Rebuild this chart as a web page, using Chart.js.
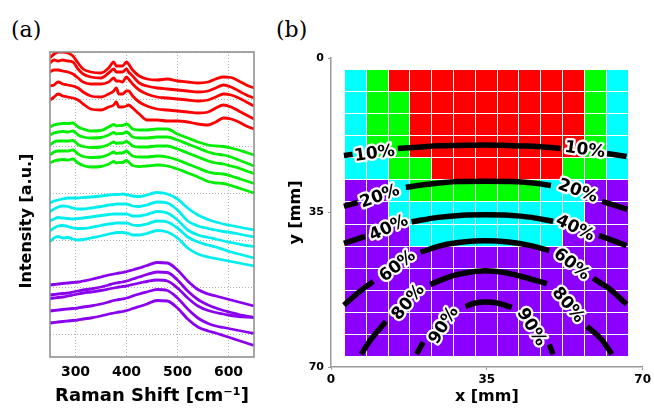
<!DOCTYPE html>
<html>
<head>
<meta charset="utf-8">
<script src="https://cdn.jsdelivr.net/npm/chart.js@4.4.1/dist/chart.umd.min.js"></script>
<style>
    body { margin: 0; background: #fff; width: 654px; height: 409px; position: relative; overflow: hidden; }
    .panel { position: absolute; top: 0; height: 409px; }
    #panelA { left: 0; width: 270px; }
    #panelB { left: 270px; width: 384px; }
    .tag { position: absolute; top: 19px; font-family: "DejaVu Serif"; font-size: 22px; line-height: 22px; color: #000; }
</style>
</head>
<body>
<div class="tag" style="left:11px">(a)</div>
<div class="tag" style="left:276px">(b)</div>
<div class="panel" id="panelA"><canvas id="spectraChart" width="270" height="409"></canvas></div>
<div class="panel" id="panelB"><canvas id="mapChart" width="384" height="409"></canvas></div>

<script>
// ---- panel (a): Raman spectra, offset for display ----
const ramanShift = [250, 258, 266, 275, 285, 295, 305, 315, 330, 350, 365, 375, 380, 385, 392, 400,
                    404, 412, 425, 440, 460, 480, 500, 520, 540, 560, 575, 590, 605, 620, 635, 650];
const ramanTicks = [300, 400, 500, 600];
const intensityGrid = [0, 47, 94, 141, 188, 235, 282];

const red1 = [276, 280, 282, 282, 281, 278, 271, 265, 262, 261, 266, 272, 268, 268, 268, 272, 270, 264, 258, 255, 254, 255, 253, 252, 251, 252, 255, 257, 256.5, 253, 249, 246];
const red2 = [271, 274, 273, 274, 273, 272, 265, 260, 257, 256, 261, 265, 262, 262, 262, 265, 262, 258, 251, 248, 246, 245, 244, 243, 242, 243, 246, 249, 247, 243, 239, 236];
const red3 = [262, 264, 264, 263, 262, 260, 256, 252, 250, 250, 252, 256, 253, 253, 252, 257, 255, 250, 244, 240, 237, 236, 235, 234, 233, 234, 237, 240, 239, 236, 232, 228];
const red4 = [248, 249, 252, 250, 249, 248, 246, 242, 238, 237, 240, 243, 246, 240, 240, 243, 243, 238, 232, 228, 225, 224, 223, 222, 221, 222, 226, 229, 227, 223, 219, 215];
const red5 = [234, 237, 240, 238, 237, 236, 234, 230, 225, 224, 227, 229, 232, 227, 227, 228, 229, 226, 220, 214, 214, 213, 213, 212, 210, 209, 212, 216, 215, 212, 208, 205];

const green1 = [207, 209, 210, 210.5, 210.5, 211, 207, 205, 203, 203.5, 207, 209.5, 208, 208.5, 208.5, 210, 209, 205, 204, 204, 205, 205, 200, 196, 192, 189, 188, 187.5, 186, 184, 181.5, 179];
const green2 = [199, 201, 202, 202.5, 202, 203, 199, 197, 196, 196.5, 199, 201.5, 200, 200.5, 200.5, 202, 201, 197, 196, 196, 197, 197, 194, 190, 186, 182, 180, 179, 177, 174, 171, 168];
const green3 = [189, 192, 193, 193, 193, 193.5, 189.5, 187.5, 186.5, 187, 189.5, 192, 190.5, 191, 191, 192.5, 191.5, 188, 187, 187, 188, 188, 185, 181, 177, 173, 171, 170, 168, 166, 163, 160.5];
const green4 = [179, 182, 183, 183, 183, 184, 180, 177.5, 176.5, 177, 179.5, 182, 180.5, 181, 181, 183, 181.5, 178, 177, 177, 178, 177, 174, 170, 166, 162, 160.5, 160, 158, 155.5, 153, 150.5];
const green5 = [171, 173, 174, 174.5, 174, 175, 171, 168.5, 167, 167.5, 170, 172.5, 171, 171.5, 171.5, 173.5, 172, 168.5, 167.5, 168, 169, 168, 165, 161, 157, 152.5, 151, 150.5, 148.5, 146, 143.5, 141];

const cyan1 = [131, 133, 134, 135, 136, 136, 136, 136.5, 137, 138, 139, 139.5, 139.5, 139.5, 140, 139.5, 139, 138, 137.5, 139, 141.5, 140, 135, 126, 119, 114.5, 112, 110, 108.5, 107, 105.5, 104];
const cyan2 = [122.5, 125, 127, 128, 127.5, 126, 125, 125, 126, 127.5, 129, 129.5, 130, 130, 130, 130, 129.5, 128, 127.5, 129, 132, 131, 124, 113, 108, 105.5, 104, 102.5, 101.5, 100, 98.5, 97];
const cyan3 = [113, 115, 116.5, 116, 115.5, 115, 115.5, 116, 117, 118.5, 119.5, 120, 120, 120, 120, 120, 119.5, 118, 118, 119.5, 122.5, 121, 114, 104, 99, 96.5, 95, 93, 91.5, 90, 88.5, 87.5];
const cyan4 = [103, 106, 108, 108.5, 107.5, 106, 105.5, 105.5, 106.5, 108.5, 110, 110.5, 111, 111, 111, 111, 110.5, 109, 108.5, 110, 113, 112, 106, 97, 92, 89, 87, 84.5, 82, 80, 78, 76];
const cyan5 = [92.5, 96, 97.5, 96, 96.5, 95, 94, 94.5, 96, 98, 100, 101, 101.5, 101.5, 101.5, 101, 100.5, 99, 99, 100.5, 103.5, 102, 96, 86, 80, 77, 75.5, 74, 72.5, 71, 69.5, 68];

const purple1 = [49, 49.5, 50, 50.5, 51, 51.5, 52, 53, 54.5, 57, 59, 60, 60.5, 61, 61.5, 62.5, 63, 64, 66, 68.5, 71.5, 71, 64, 53, 44.5, 40, 38, 36, 34, 32, 30, 28];
const purple2 = [39, 39.5, 40, 40.5, 41, 42, 43, 44, 45, 47, 49, 50.5, 51, 51.5, 52, 53, 53.5, 55, 57, 59.5, 62, 61.5, 54, 43, 34.5, 29, 26, 23.5, 21.5, 19.5, 18, 16.5];
const purple3 = [35.5, 36, 36.5, 37, 38, 39, 40, 41, 42, 43.5, 45, 46, 46.5, 47, 47.5, 48, 48.5, 49.5, 51, 52.5, 54, 53, 46, 36, 28, 23.5, 21.5, 20, 18.5, 17.5, 17, 16.5];
const purple4 = [23, 23.5, 24, 24.5, 25, 25.5, 26, 27, 28, 30, 32, 33.5, 34, 34.5, 35, 36, 36.5, 38, 40, 42, 44.5, 43.5, 36, 25, 16, 10.5, 8, 6.5, 5, 3.5, 2, 0.5];
const purple5 = [11, 11.5, 12, 12.5, 13, 13.5, 14, 15, 16, 18, 20, 21, 21.5, 22, 22.5, 23.5, 24, 25.5, 27.5, 30, 33.5, 33, 26, 15, 7, 3, 1, -1.5, -4, -6.5, -9, -11.5];

// ---- panel (b): phase map + contour lines ----
const mapTicks = [0, 35, 70];
// one string per row of the map, top to bottom: C cyan, G green, R red, P purple
const mapRows = [
    'CGRRRRRRRRRGC',
    'CGGRRRRRRRRGC',
    'CGGRRRRRRRRGC',
    'CGGRRRRRRRRGC',
    'CCGGRRRRRRGGC',
    'PPCGGGGGGCCPP',
    'PPCCCCCCCCCPP',
    'PPPCCCCCCCPPP',
    'PPPPPPPPPPPPP',
    'PPPPPPPPPPPPP',
    'PPPPPPPPPPPPP',
    'PPPPPPPPPPPPP',
    'PPPPPPPPPPPPP'
];

// null breaks the line where a label sits
const c10X = [2.9, 4.85, null, 15.0, 19.6, 24.05, 28.5, 34.6, 39.5, 43.9, 48.3, 51.6, null, 62.0, 66.4];
const c10Y = [22.1, 21.8, null, 20.5, 20.2, 19.9, 19.8, 19.7, 19.8, 19.95, 20.2, 20.5, null, 21.65, 22.3];
const c20X = [2.9, 6.0, null, 16.8, 21.8, 28.5, 34.6, 40.6, 46.1, 49.4, null, 60.9, 66.6];
const c20Y = [33.6, 32.7, null, 29.3, 28.6, 28.0, 27.9, 28.0, 28.4, 28.9, null, 32.5, 34.3];
const c40X = [2.9, 7.7, null, 18.1, 24.05, 29.6, 34.6, 39.9, 45.0, 49.9, null, 60.2, 66.4];
const c40Y = [42.0, 40.4, null, 37.1, 36.1, 35.6, 35.5, 35.6, 36.1, 37.0, null, 40.2, 42.5];
const c60X = [2.9, 6.4, 9.5, null, 20.1, 25.1, 29.6, 34.6, 39.9, 44.3, 49.0, null, 58.9, 62.7, 66.4];
const c60Y = [56.0, 52.9, 50.6, null, 44.0, 42.4, 41.7, 41.4, 41.7, 42.4, 43.6, null, 49.9, 52.4, 55.8];
const c80X = [6.8, 9.0, 12.35, null, 22.3, 27.4, 30.7, 34.6, 39.0, 42.8, 48.5, null, 57.5, 60.7, 63.1];
const c80Y = [67.1, 63.7, 59.7, null, 51.3, 49.3, 48.6, 48.2, 48.6, 49.5, 51.1, null, 60.8, 63.7, 67.1];
const c90X = [19.2, 20.7, null, 30.2, 32.4, 34.6, 37.3, 40.6, null, 49.0, 49.9];
const c90Y = [67.1, 64.4, null, 56.3, 55.5, 55.3, 55.5, 56.5, null, 64.9, 67.1];

const contourText = ['10%', '10%', '20%', '20%', '40%', '40%', '60%', '60%', '80%', '80%', '90%', '90%'];
const contourTextX = [9.8, 57.0, 11.0, 55.4, 13.0, 54.8, 15.0, 54.0, 17.4, 53.2, 25.4, 45.0];
const contourTextY = [21.7, 20.9, 31.4, 30.2, 38.6, 38.6, 47.2, 46.8, 55.4, 56.0, 60.6, 61.0];
const contourTextAngle = [-8, 8, -20, 20, -25, 25, -38, 38, -50, 50, -58, 58];

// map cell layout (mm)
const cellX0 = 2.9, cellW = 4.9, cellY0 = 2.5, cellH = 5.0;
const phaseColors = { C: '#00ffff', G: '#00ff00', R: '#ff0000', P: '#8b00ff' };

Chart.defaults.font.family = 'DejaVu Sans';

// cut a contour into pieces at the null entries
function splitAtGaps(xs, ys) {
    const parts = [];
    let cur = [];
    xs.forEach((x, i) => {
        if (x === null) {
            parts.push(cur);
            cur = [];
        } else {
            cur.push({ x: x, y: ys[i] });
        }
    });
    parts.push(cur);
    return parts;
}

// frame and y-title for the spectra panel
const spectraDecor = {
    id: 'spectraDecor',
    afterDatasetsDraw(chart) {
        const { ctx, chartArea } = chart;
        ctx.save();
        ctx.strokeStyle = '#8a8a8a';
        ctx.lineWidth = 1.5;
        ctx.strokeRect(chartArea.left, chartArea.top, chartArea.right - chartArea.left, chartArea.bottom - chartArea.top);
        ctx.restore();
    },
    afterDraw(chart) {
        const ctx = chart.ctx;
        ctx.save();
        ctx.translate(26.5, 221);
        ctx.rotate(-Math.PI / 2);
        ctx.font = 'bold 16px "DejaVu Sans"';
        ctx.fillStyle = '#000';
        ctx.textAlign = 'center';
        ctx.textBaseline = 'middle';
        ctx.fillText('Intensity [a.u.]', 0, 0);
        ctx.restore();
    }
};

const spectra = [
    [red1, '#ff0000'], [red2, '#ff0000'], [red3, '#ff0000'], [red4, '#ff0000'], [red5, '#ff0000'],
    [green1, '#00ee00'], [green2, '#00ee00'], [green3, '#00ee00'], [green4, '#00ee00'], [green5, '#00ee00'],
    [cyan1, '#00eeee'], [cyan2, '#00eeee'], [cyan3, '#00eeee'], [cyan4, '#00eeee'], [cyan5, '#00eeee'],
    [purple1, '#8a00ee'], [purple2, '#8a00ee'], [purple3, '#8a00ee'], [purple4, '#8a00ee'], [purple5, '#8a00ee']
];

new Chart(document.getElementById('spectraChart'), {
    type: 'line',
    data: {
        datasets: spectra.map(s => ({
            data: ramanShift.map((x, i) => ({ x: x, y: s[0][i] })),
            borderColor: s[1],
            borderWidth: 2.8,
            pointRadius: 0,
            cubicInterpolationMode: 'monotone',
            fill: false
        }))
    },
    options: {
        responsive: false,
        animation: false,
        layout: { padding: { top: 52, right: 16, left: 0, bottom: 0 } },
        plugins: { legend: { display: false }, tooltip: { enabled: false } },
        scales: {
            x: {
                type: 'linear',
                min: 250,
                max: 650,
                afterBuildTicks: s => { s.ticks = ramanTicks.map(v => ({ value: v })); },
                afterFit: s => { s.height = 52; },
                grid: { color: '#b0b0b0', lineWidth: 1, drawTicks: false },
                border: { display: false, dash: [1, 2] },
                ticks: { color: '#000', padding: 7, maxRotation: 0, font: { size: 14, weight: 'bold' } },
                title: { display: true, text: 'Raman Shift [cm⁻¹]', color: '#000', font: { size: 18, weight: 'bold' }, padding: { top: 0, bottom: 2 } }
            },
            y: {
                min: -23,
                max: 282,
                afterBuildTicks: s => { s.ticks = intensityGrid.map(v => ({ value: v })); },
                afterFit: s => { s.width = 50; },
                grid: { color: '#b0b0b0', lineWidth: 1, drawTicks: false },
                border: { display: false, dash: [1, 2] },
                ticks: { display: false }
            }
        }
    },
    plugins: [spectraDecor]
});

// map cells under the contours, labels on top
const mapDecor = {
    id: 'mapDecor',
    beforeDatasetsDraw(chart) {
        const { ctx, scales: { x, y } } = chart;
        ctx.save();
        mapRows.forEach((row, r) => {
            for (let c = 0; c < row.length; c++) {
                const left = Math.round(x.getPixelForValue(cellX0 + c * cellW));
                const right = Math.round(x.getPixelForValue(cellX0 + (c + 1) * cellW));
                const top = Math.round(y.getPixelForValue(cellY0 + r * cellH));
                const bottom = Math.round(y.getPixelForValue(cellY0 + (r + 1) * cellH));
                ctx.fillStyle = phaseColors[row[c]];
                ctx.fillRect(left + 1, top + 1, right - left - 1, bottom - top - 1);
            }
        });
        ctx.restore();
    },
    afterDatasetsDraw(chart) {
        const { ctx, scales: { x, y } } = chart;
        ctx.save();
        ctx.font = 'bold 17px "DejaVu Sans"';
        ctx.textAlign = 'center';
        ctx.textBaseline = 'middle';
        ctx.lineJoin = 'round';
        contourText.forEach((t, i) => {
            ctx.save();
            ctx.translate(x.getPixelForValue(contourTextX[i]), y.getPixelForValue(contourTextY[i]));
            ctx.rotate(contourTextAngle[i] * Math.PI / 180);
            ctx.strokeStyle = '#fff';
            ctx.lineWidth = 4.5;
            ctx.strokeText(t, 0, 0);
            ctx.fillStyle = '#000';
            ctx.fillText(t, 0, 0);
            ctx.restore();
        });
        ctx.restore();
    }
};

const contours = [[c10X, c10Y], [c20X, c20Y], [c40X, c40Y], [c60X, c60Y], [c80X, c80Y], [c90X, c90Y]];
const contourSets = [];
contours.forEach(c => {
    splitAtGaps(c[0], c[1]).forEach(piece => {
        contourSets.push({
            data: piece,
            showLine: true,
            borderColor: '#000',
            borderWidth: 5.5,
            pointRadius: 0,
            cubicInterpolationMode: 'monotone',
            borderCapStyle: 'butt'
        });
    });
});

new Chart(document.getElementById('mapChart'), {
    type: 'scatter',
    data: { datasets: contourSets },
    options: {
        responsive: false,
        animation: false,
        layout: { padding: { top: 58, right: 6, left: 0, bottom: 0 } },
        plugins: { legend: { display: false }, tooltip: { enabled: false } },
        scales: {
            x: {
                type: 'linear',
                min: 0,
                max: 70,
                afterBuildTicks: s => { s.ticks = mapTicks.map(v => ({ value: v })); },
                afterFit: s => { s.height = 42; },
                grid: { drawOnChartArea: false, drawTicks: true, tickLength: 3, color: '#9a9a9a' },
                border: { display: true, color: '#9a9a9a', width: 1.5 },
                ticks: { color: '#000', padding: 3, maxRotation: 0, font: { size: 12, weight: 'bold' } },
                title: { display: true, text: 'x [mm]', color: '#000', font: { size: 16, weight: 'bold' }, padding: { top: 0, bottom: 3 } }
            },
            y: {
                type: 'linear',
                min: 0,
                max: 70,
                reverse: true,
                afterBuildTicks: s => { s.ticks = mapTicks.map(v => ({ value: v })); },
                afterFit: s => { s.width = 61; },
                grid: { drawOnChartArea: false, drawTicks: true, tickLength: 3, color: '#9a9a9a' },
                border: { display: true, color: '#9a9a9a', width: 1.5 },
                ticks: { color: '#000', padding: 4, font: { size: 11, weight: 'bold' } },
                title: { display: true, text: 'y [mm]', color: '#000', font: { size: 16, weight: 'bold' }, padding: { top: 16, bottom: 0 } }
            }
        }
    },
    plugins: [mapDecor]
});
</script>
</body>
</html>
